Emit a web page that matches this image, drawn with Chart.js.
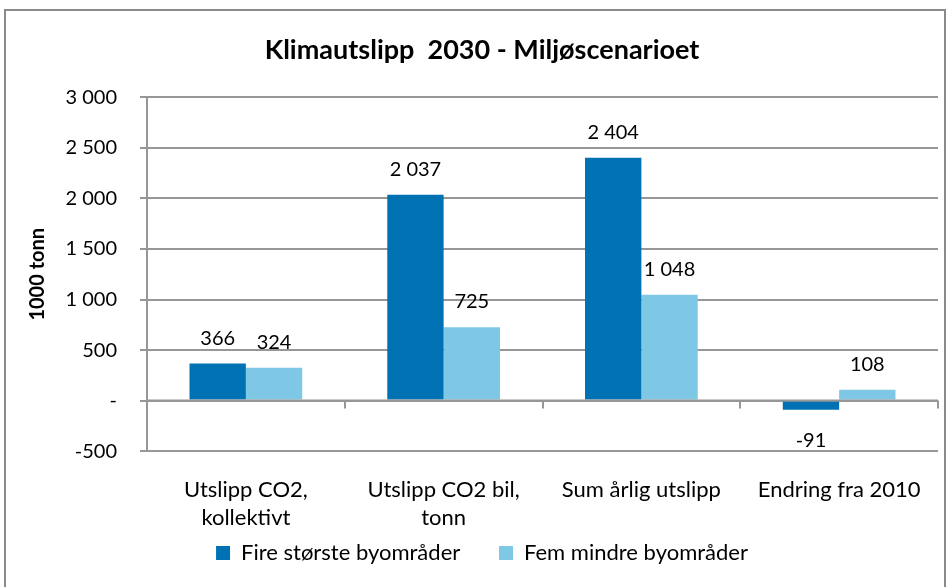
<!DOCTYPE html>
<html>
<head>
<meta charset="utf-8">
<script src="https://cdn.jsdelivr.net/npm/chart.js@4/dist/chart.umd.min.js"></script>
<style>
  body { margin: 0; background: #fff; overflow: hidden; }
  #frame { position: absolute; left: 4px; top: 9px; width: 942px; height: 600px; border: 2px solid #8a8a8a; box-sizing: border-box; }
  #wrap { position: absolute; left: 0; top: 0; width: 952px; height: 587px; }
</style>
</head>
<body>
<div id="frame"></div>
<div id="wrap"><canvas id="klima"></canvas></div>
<script>
var categories = [["Utslipp CO2,", "kollektivt"], ["Utslipp CO2 bil,", "tonn"], "Sum årlig utslipp", "Endring fra 2010"];
var fireStorste = [366, 2037, 2404, -91];
var femMindre = [324, 725, 1048, 108];
var seriesNames = ["Fire største byområder", "Fem mindre byområder"];
var yTicks = [-500, 0, 500, 1000, 1500, 2000, 2500, 3000];

var FONT = "Lato, 'Open Sans', sans-serif";
var gridGray = "#979797";

function fmt(v) {
    if (v == 0) return "-";
    var s = Math.abs(v).toString().replace(/\B(?=(\d{3})+(?!\d))/g, " ");
    return (v < 0 ? "-" : "") + s;
}

// value labels over/under each bar
var barLabels = {
    id: "barLabels",
    afterDatasetsDraw: function(chart) {
        var ctx = chart.ctx;
        ctx.save();
        ctx.font = "20px " + FONT;
        ctx.fillStyle = "#000";
        ctx.textAlign = "center";
        ctx.textBaseline = "alphabetic";
        chart.data.datasets.forEach(function(ds, di) {
            chart.getDatasetMeta(di).data.forEach(function(bar, i) {
                var v = ds.data[i];
                if (v >= 0) {
                    ctx.fillText(fmt(v), bar.x, bar.y - 19);
                } else {
                    ctx.fillText(fmt(v), bar.x, bar.y + 37);
                }
            });
        });
        ctx.restore();
    }
};

// category axis line drawn at zero, with ticks between groups
var zeroAxis = {
    id: "zeroAxis",
    afterLayout: function(chart) {
        // legend sits a bit higher than chart.js puts it
        chart.legend.top -= 18;
        chart.legend.bottom -= 18;
    },
    afterDatasetsDraw: function(chart) {
        var ctx = chart.ctx;
        var xs = chart.scales.x, ys = chart.scales.y;
        var y0 = ys.getPixelForValue(0);
        var step = xs.getPixelForValue(1) - xs.getPixelForValue(0);
        ctx.save();
        ctx.strokeStyle = gridGray;
        ctx.lineWidth = 2;
        ctx.beginPath();
        ctx.moveTo(chart.chartArea.left, y0);
        ctx.lineTo(chart.chartArea.right, y0);
        for (var i = 0; i < categories.length; i++) {
            var bx = Math.round(xs.getPixelForValue(i) + step / 2);
            ctx.moveTo(bx, y0);
            ctx.lineTo(bx, y0 + 8);
        }
        ctx.stroke();
        ctx.restore();
    }
};

new Chart(document.getElementById("klima"), {
    type: "bar",
    data: {
        labels: categories,
        datasets: [
            { label: seriesNames[0], data: fireStorste, backgroundColor: "#0072B4" },
            { label: seriesNames[1], data: femMindre, backgroundColor: "#7EC8E5" }
        ]
    },
    options: {
        responsive: true,
        maintainAspectRatio: false,
        animation: false,
        layout: { padding: { left: 26, right: 14, top: 14, bottom: -5 } },
        datasets: { bar: { categoryPercentage: 0.57, barPercentage: 1.0 } },
        plugins: {
            title: {
                display: true,
                text: "Klimautslipp  2030 - Miljøscenarioet",
                color: "#000",
                font: { family: FONT, size: 27, weight: "bold" },
                padding: { top: 20, bottom: 31 }
            },
            legend: {
                position: "bottom",
                labels: {
                    color: "#000",
                    font: { family: FONT, size: 22 },
                    boxWidth: 14,
                    boxHeight: 14,
                    padding: 3,
                    generateLabels: function(chart) {
                        var items = Chart.defaults.plugins.legend.labels.generateLabels(chart);
                        // wider gap between the two entries
                        items[0].text = items[0].text + "\u2003\u2003\u2009";
                        return items;
                    }
                }
            },
            tooltip: { enabled: false }
        },
        scales: {
            x: {
                grid: { display: false, drawTicks: false },
                border: { display: false },
                ticks: { color: "#000", font: { family: FONT, size: 22, lineHeight: 1.27 }, padding: 25, maxRotation: 0, autoSkip: false }
            },
            y: {
                min: -500,
                max: 3000,
                afterBuildTicks: function(scale) {
                    scale.ticks = yTicks.map(function(v) { return { value: v }; });
                },
                afterFit: function(scale) {
                    scale.width = 121;
                },
                grid: { color: gridGray, lineWidth: 2, tickLength: 7 },
                border: { color: gridGray, width: 2 },
                title: {
                    display: true,
                    text: "1000 tonn",
                    color: "#000",
                    font: { family: FONT, size: 20, weight: "bold" },
                    padding: { top: 0, bottom: 0 }
                },
                ticks: {
                    color: "#000",
                    font: { family: FONT, size: 20 },
                    padding: 23,
                    callback: function(v) { return fmt(v); }
                }
            }
        }
    },
    plugins: [barLabels, zeroAxis]
});
</script>
</body>
</html>
